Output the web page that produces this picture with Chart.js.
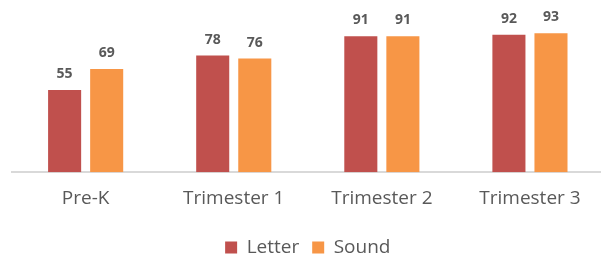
<!DOCTYPE html>
<html lang="en">
<head>
  <meta charset="UTF-8">
  <title>Letter and Sound</title>
  <script src="https://cdn.jsdelivr.net/npm/chart.js"></script>
  <style>
    html, body { margin: 0; padding: 0; background: #fff; overflow: hidden; }
    #wrap { width: 604px; height: 267px; position: relative; }
  </style>
</head>
<body>
  <div id="wrap"><canvas id="scoreChart"></canvas></div>

  <script>
    const categories = ["Pre-K", "Trimester 1", "Trimester 2", "Trimester 3"];
    const letterValues = [55, 78, 91, 92];
    const soundValues = [69, 76, 91, 93];

    // draws the numbers above each bar
    const barLabels = {
      id: 'barLabels',
      afterDatasetsDraw(chart) {
        const ctx = chart.ctx;
        ctx.save();
        ctx.font = 'bold 14px "Open Sans"';
        ctx.fillStyle = '#595959';
        ctx.textAlign = 'center';
        ctx.textBaseline = 'middle';
        chart.data.datasets.forEach((ds, i) => {
          chart.getDatasetMeta(i).data.forEach((bar, j) => {
            ctx.fillText(ds.data[j], bar.x, bar.y - 16);
          });
        });
        ctx.restore();
      }
    };

    const ctx = document.getElementById('scoreChart').getContext('2d');
    new Chart(ctx, {
      type: 'bar',
      data: {
        labels: categories,
        datasets: [{
          label: 'Letter',
          data: letterValues,
          backgroundColor: '#C0504D',
          borderWidth: 0
        }, {
          label: 'Sound',
          data: soundValues,
          backgroundColor: '#F79646',
          borderWidth: 0
        }]
      },
      options: {
        responsive: true,
        maintainAspectRatio: false,
        animation: false,
        layout: { padding: { left: 11.6, right: 0, top: 22.7, bottom: 0 } },
        datasets: {
          bar: { categoryPercentage: 0.568, barPercentage: 0.786 }
        },
        plugins: {
          legend: {
            position: 'bottom',
            labels: {
              boxWidth: 12,
              boxHeight: 12,
              padding: 13,
              color: '#595959',
              font: { family: '"Open Sans"', size: 19, lineHeight: 1.21 }
            }
          },
          tooltip: { enabled: false }
        },
        scales: {
          x: {
            grid: { display: false, drawTicks: false },
            border: { display: true, color: '#D9D9D9', width: 2 },
            ticks: {
              padding: 15,
              color: '#595959',
              font: { family: '"Open Sans"', size: 19 }
            }
          },
          y: {
            display: false,
            min: 0,
            max: 100
          }
        }
      },
      plugins: [barLabels]
    });
  </script>
</body>
</html>
